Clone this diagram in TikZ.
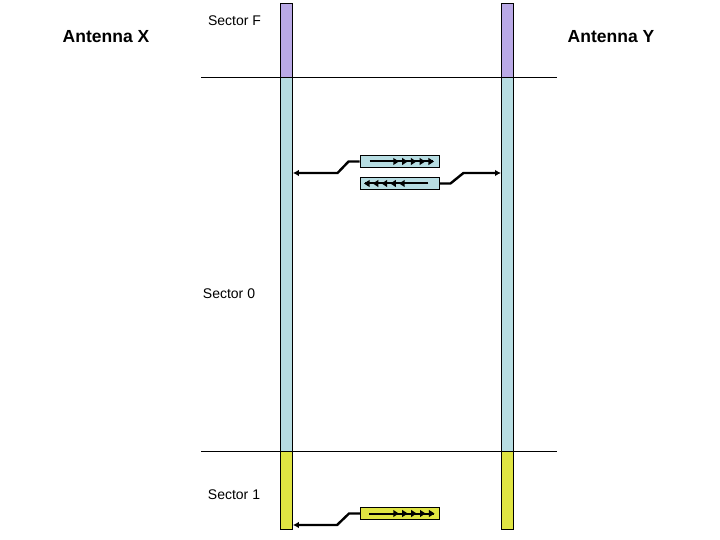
\documentclass[tikz,border=0pt]{standalone}
\usepackage{fontspec}
\setmainfont{Liberation Sans}
\usetikzlibrary{arrows.meta,decorations.markings}
\definecolor{secF}{HTML}{B9A9E6}
\definecolor{secO}{HTML}{B7DDE2}
\definecolor{secI}{HTML}{E0E542}
\tikzset{
  bar/.style={draw=black,line width=0.9pt,minimum width=12pt,inner sep=0pt,anchor=north west},
  msg/.style={draw=black,line width=0.9pt,minimum width=79pt,minimum height=11.5pt,inner sep=0pt},
  conn/.style={line width=2.4pt,-{Latex[length=6pt,width=6.5pt]}},
  sep/.style={line width=0.8pt},
  lbl/.style={font=\fontsize{14}{16}\selectfont,inner sep=0pt},
  ant/.style={font=\fontsize{17.5}{20}\selectfont\bfseries,inner sep=0pt},
  fwd/.style={draw=black,line width=2pt,postaction={decorate},decoration={markings,
    mark=between positions 0.45 and 1 step 0.1375 with {\fill[black] (-5,-3.6) -- (-5,3.6) -- (0.5,0) -- cycle;}}},
}
\begin{document}
\begin{tikzpicture}[x=1pt,y=-1pt]
\useasboundingbox (0,0) rectangle (720,540);
% antenna X bar
\node[bar,fill=secF,minimum height=74pt] (xF) at (280,3) {};
\node[bar,fill=secO,minimum height=374pt] (x0) at (280,77) {};
\node[bar,fill=secI,minimum height=78pt] (x1) at (280,451) {};
% antenna Y bar
\node[bar,fill=secF,minimum height=74pt] (yF) at (501,3) {};
\node[bar,fill=secO,minimum height=374pt] (y0) at (501,77) {};
\node[bar,fill=secI,minimum height=78pt] (y1) at (501,451) {};
% sector lines
\draw[sep] (201,77) -- (557,77);
\draw[sep] (201,451) -- (557,451);
% labels
\node[ant] (ax) at (106,37) {Antenna X};
\node[ant] (ay) at (611,37) {Antenna Y};
\node[lbl] (sF) at (234.5,21) {Sector F};
\node[lbl] (s0) at (229,294) {Sector 0};
\node[lbl] (s1) at (234,495) {Sector 1};
% messages
\node[msg,fill=secO] (m1) at (399.5,161.5) {};
\node[msg,fill=secO] (m2) at (399.5,183.5) {};
\node[msg,fill=secI] (m3) at (400,513.5) {};
\path[fwd] ([xshift=10pt]m1.west) -- ([xshift=-6pt]m1.east);
\path[fwd] ([xshift=-11pt]m2.east) -- ([xshift=5pt]m2.west);
\path[fwd] ([xshift=9pt]m3.west) -- ([xshift=-6pt]m3.east);
% connectors
\draw[conn] (m1.west) -- ++(-11,0) -- ++(-11,11.5) coordinate (k1) -- (k1 -| x0.east);
\draw[conn] (m2.east) -- ++(11,0) -- ++(13,-10.5) coordinate (k2) -- (k2 -| y0.west);
\draw[conn] (m3.west) -- ++(-11,0) -- ++(-12,11.5) coordinate (k3) -- (k3 -| x1.east);
\end{tikzpicture}
\end{document}
